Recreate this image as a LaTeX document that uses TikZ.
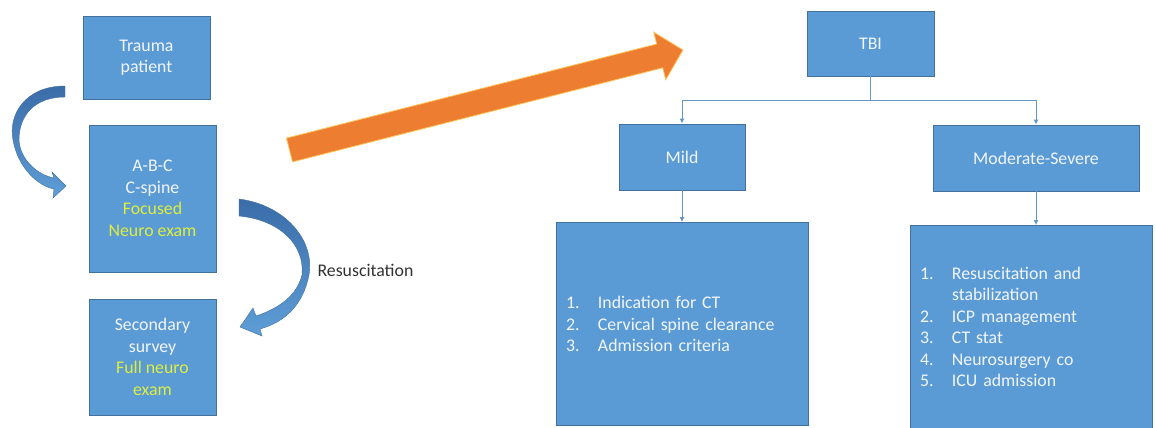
\documentclass[tikz,border=0pt]{standalone}
\usepackage{fontspec}
\setmainfont{Carlito}
\usetikzlibrary{arrows.meta}

\definecolor{boxblue}{RGB}{91,155,213}
\definecolor{boxedge}{RGB}{65,113,156}
\definecolor{hilite}{RGB}{222,238,60}
\definecolor{arrorange}{RGB}{237,125,49}
\definecolor{arrglow}{RGB}{255,196,90}
\definecolor{curvedark}{RGB}{58,108,168}
\definecolor{curvelight}{RGB}{95,158,215}
\definecolor{textwhite}{RGB}{242,246,252}
\definecolor{labelgray}{RGB}{50,50,50}
\definecolor{linkblue}{RGB}{100,150,200}

\newcommand{\itm}[2]{\makebox[32pt][l]{#1}#2}

\begin{document}
\begin{tikzpicture}[x=1pt,y=-1pt]
    \tikzstyle{box}=[rectangle,fill=boxblue,draw=boxedge,line width=0.8pt,inner sep=0pt,text=textwhite,font=\fontsize{17.8}{21.5}\selectfont,align=center]
    \tikzstyle{list box}=[box,align=left,inner xsep=10pt,minimum height=203pt]
    \tikzstyle{link}=[draw=linkblue,line width=1pt]
    \tikzstyle{link arrow}=[link,-{Latex[length=5pt,width=5pt]}]
    \tikzstyle{bend arrow}=[top color=curvedark,bottom color=curvelight,draw=boxedge,line width=0.4pt]

    \useasboundingbox (0,0) rectangle (1156,428);

    % Draw the left column boxes
    \node[box,minimum width=127pt,minimum height=83pt] (trauma) at (146.5,57.5) {Trauma\\patient};
    \node[box,minimum width=127pt,minimum height=147pt] (abc) at (152.5,198.5)
        {A-B-C\\C-spine\\\textcolor{hilite}{Focused}\\\textcolor{hilite}{Neuro exam}};
    \node[box,minimum width=127pt,minimum height=116pt] (sec) at (152.5,357)
        {Secondary\\survey\\\textcolor{hilite}{Full neuro}\\\textcolor{hilite}{exam}};

    % Curved arrows between the left boxes
    \shade[bend arrow] (65,86) .. controls (25,86) and (8,115) .. (13,140)
        .. controls (18,168) and (38,186) .. (54,189)
        -- (53,198) -- (66,186) -- (52,172) -- (54,178)
        .. controls (38,175) and (20,160) .. (19,140)
        .. controls (19,115) and (35,97) .. (65,97) -- cycle;
    \shade[bend arrow] (239,199) .. controls (285,205) and (315,240) .. (309,275)
        .. controls (303,305) and (285,322) .. (260,329)
        -- (262,336) -- (240,327) -- (253,308) -- (256,316)
        .. controls (280,308) and (297,295) .. (302,275)
        .. controls (305,245) and (280,220) .. (239,216) -- cycle;
    \node[anchor=west,text=labelgray,font=\fontsize{17.8}{21.5}\selectfont] (resus) at (314,270) {Resuscitation};

    % The big orange arrow
    \begin{scope}[shift={(289.5,150)},rotate=14.26]
        \fill[arrorange,draw=arrglow,line width=0.8pt] (0,-12.25) -- (382,-12.25) -- (382,-24.5) -- (406,0)
            -- (382,24.5) -- (382,12.25) -- (0,12.25) -- cycle;
    \end{scope}

    % Draw the TBI tree
    \node[box,minimum width=127pt,minimum height=65pt] (tbi) at (870.5,43.5) {TBI};
    \node[box,minimum width=126pt,minimum height=66pt] (mild) at (682,157) {Mild};
    \node[box,minimum width=206pt,minimum height=66pt] (mod) at (1036,158) {Moderate-Severe};

    \node[list box,text width=232pt] (mildl) at (682,324)
        {\itm{1.}{Indication for CT}\\\itm{2.}{Cervical spine clearance}\\\itm{3.}{Admission criteria}};
    \node[list box,text width=222pt] (modl) at (1031,327)
        {\itm{1.}{Resuscitation and}\\\itm{}{stabilization}\\\itm{2.}{ICP management}\\\itm{3.}{CT stat}\\\itm{4.}{Neurosurgery co}\\\itm{5.}{ICU admission}};

    % Connect the tree
    \draw[link] (tbi.south) -- ++(0,24) coordinate (split);
    \draw[link arrow] (split) -| (mild.north);
    \draw[link arrow] (split) -| (mod.north);
    \draw[link arrow] (mild.south) -- (mildl.north);
    \draw[link arrow] (mod.south) -- (mod.south |- modl.north);

\end{tikzpicture}
\end{document}
